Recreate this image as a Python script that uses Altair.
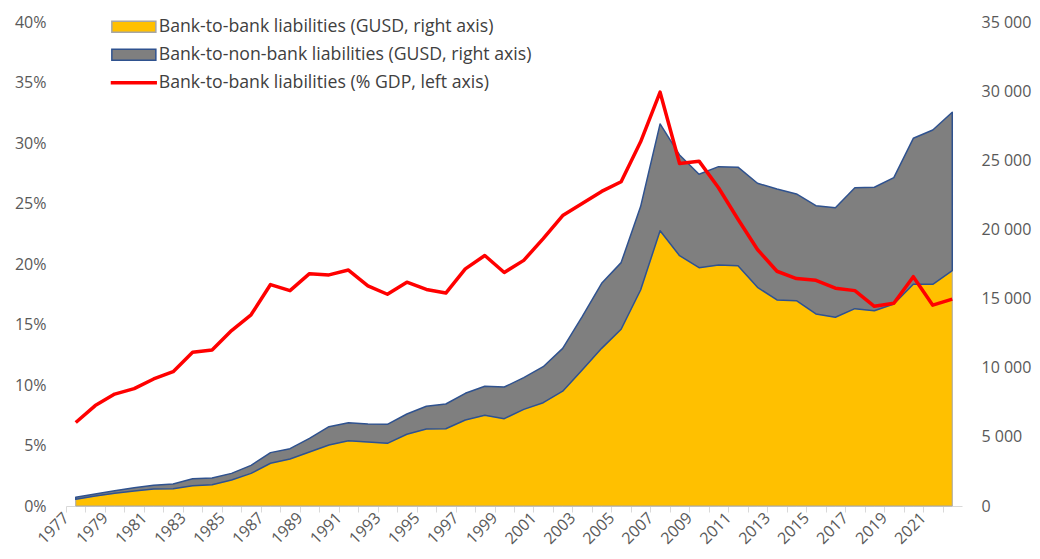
import altair as alt
import pandas as pd

years = list(range(1977, 2023))

pct_gdp = [6.9, 8.3, 9.25, 9.7, 10.5, 11.1, 12.7, 12.9, 14.5, 15.8,
           18.3, 17.8, 19.2, 19.1, 19.5, 18.2, 17.5, 18.5, 17.9, 17.6,
           19.6, 20.7, 19.3, 20.3, 22.1, 24.0, 25.0, 26.0, 26.8, 30.1,
           34.2, 28.3, 28.5, 26.3, 23.7, 21.2, 19.4, 18.8, 18.65, 18.0,
           17.8, 16.5, 16.75, 18.95, 16.6, 17.1]

bank_to_bank = [480, 720, 920, 1085, 1230, 1250, 1470, 1540, 1880, 2360,
                3090, 3400, 3905, 4410, 4725, 4630, 4530, 5185, 5570, 5590,
                6220, 6560, 6315, 6990, 7470, 8300, 9835, 11400, 12780, 15620,
                19910, 18100, 17235, 17430, 17380, 15815, 14900, 14850, 13885, 13645,
                14270, 14125, 14610, 16030, 16030, 17020]

bank_to_nonbank = [150, 150, 190, 235, 270, 340, 505, 485, 480, 580,
                   770, 745, 990, 1325, 1300, 1300, 1375, 1470, 1640, 1785,
                   1930, 2095, 2290, 2290, 2605, 3100, 3855, 4700, 4820, 6030,
                   7720, 7285, 6755, 7110, 7120, 7525, 8025, 7715, 7835, 7930,
                   8750, 8925, 9135, 10560, 11160, 11450]

left_ticks = [0, 5, 10, 15, 20, 25, 30, 35, 40]
right_ticks = [0, 5000, 10000, 15000, 20000, 25000, 30000, 35000]

s_b2b = "Bank-to-bank liabilities (GUSD, right axis)"
s_b2nb = "Bank-to-non-bank liabilities (GUSD, right axis)"
s_pct = "Bank-to-bank liabilities (% GDP, left axis)"

df = pd.DataFrame({"year": years, "pct": pct_gdp, "b2b": bank_to_bank, "b2nb": bank_to_nonbank})
df["s1"] = s_b2b
df["s2"] = s_b2nb
df["s3"] = s_pct

FONT = "Open Sans"
LABEL_COLOR = "#595959"
PLOT_W = 896
HALF_BAND = PLOT_W / len(years) / 2

x_enc = alt.X(
    "year:Q",
    scale=alt.Scale(domain=[years[0] - 0.5, years[-1] + 0.5], nice=False, zero=False),
    axis=alt.Axis(
        title=None,
        values=years,
        format="d",
        labelExpr="(datum.value % 2 == 1) ? datum.label : ''",
        labelAngle=-45,
        labelAlign="right",
        labelBaseline="middle",
        labelOverlap=False,
        labelFlush=False,
        labelBound=False,
        labelPadding=3,
        tickSize=6,
        tickOffset=-HALF_BAND,
        tickColor="#D9D9D9",
        domainColor="#D9D9D9",
        grid=False,
    ),
)

right_axis = alt.Axis(
    title=None, orient="right", values=right_ticks, domain=False, ticks=False, grid=False,
    labelPadding=19,
    labelExpr="replace(format(datum.value, ','), ',', ' ')",
)


def box_legend(y, stroke):
    return alt.Legend(
        title=None,
        orient="none",
        legendX=59,
        legendY=y,
        symbolType="M-4,-1H4V1H-4Z",
        symbolSize=121,
        symbolStrokeColor=stroke,
        symbolStrokeWidth=1.5,
        labelOffset=16,
    )


yellow = alt.Chart(df).mark_area(stroke="#A6A6A6", strokeWidth=1).encode(
    x=x_enc,
    y=alt.Y("b2b:Q", scale=alt.Scale(domain=[0, 35000], nice=False), axis=right_axis),
    fill=alt.Fill("s1:N", scale=alt.Scale(domain=[s_b2b], range=["#FFC000"]),
                  legend=box_legend(-4, "#A6A6A6")),
)

grey = alt.Chart(df).transform_calculate(top="datum.b2b + datum.b2nb").mark_area(
    stroke="#2F528F", strokeWidth=1.5, strokeJoin="round"
).encode(
    x=x_enc,
    y=alt.Y("top:Q", scale=alt.Scale(domain=[0, 35000], nice=False), axis=right_axis),
    y2="b2b:Q",
    fill=alt.Fill("s2:N", scale=alt.Scale(domain=[s_b2nb], range=["#7F7F7F"]),
                  legend=box_legend(24, "#2F528F")),
)

areas = alt.layer(yellow, grey).resolve_scale(fill="independent")

line = alt.Chart(df).mark_line(strokeWidth=3.5, strokeJoin="round").encode(
    x=x_enc,
    y=alt.Y(
        "pct:Q",
        scale=alt.Scale(domain=[0, 40], nice=False),
        axis=alt.Axis(title=None, orient="left", values=left_ticks, domain=False, ticks=False,
                      grid=False, labelPadding=20, labelExpr="datum.value + '%'"),
    ),
    stroke=alt.Stroke(
        "s3:N",
        scale=alt.Scale(domain=[s_pct], range=["#FF0000"]),
        legend=alt.Legend(
            title=None, orient="none", legendX=59, legendY=52,
            symbolType="M-4.2,0H4.2", symbolSize=121, symbolStrokeWidth=3.5,
            labelOffset=16,
        ),
    ),
)

chart = alt.layer(areas, line).resolve_scale(y="independent").properties(
    width=PLOT_W,
    height=484,
    autosize=alt.AutoSizeParams(type="none"),
    padding={"left": 58, "top": 14, "right": 70, "bottom": 43},
).configure_view(stroke=None).configure_axis(
    labelFont=FONT, labelFontSize=16, labelColor=LABEL_COLOR
).configure_legend(
    labelFont=FONT, labelFontSize=17.7, labelColor="#404040", padding=0, labelLimit=600
)

chart.save("out.html", embed_options={"renderer": "svg", "actions": False})
